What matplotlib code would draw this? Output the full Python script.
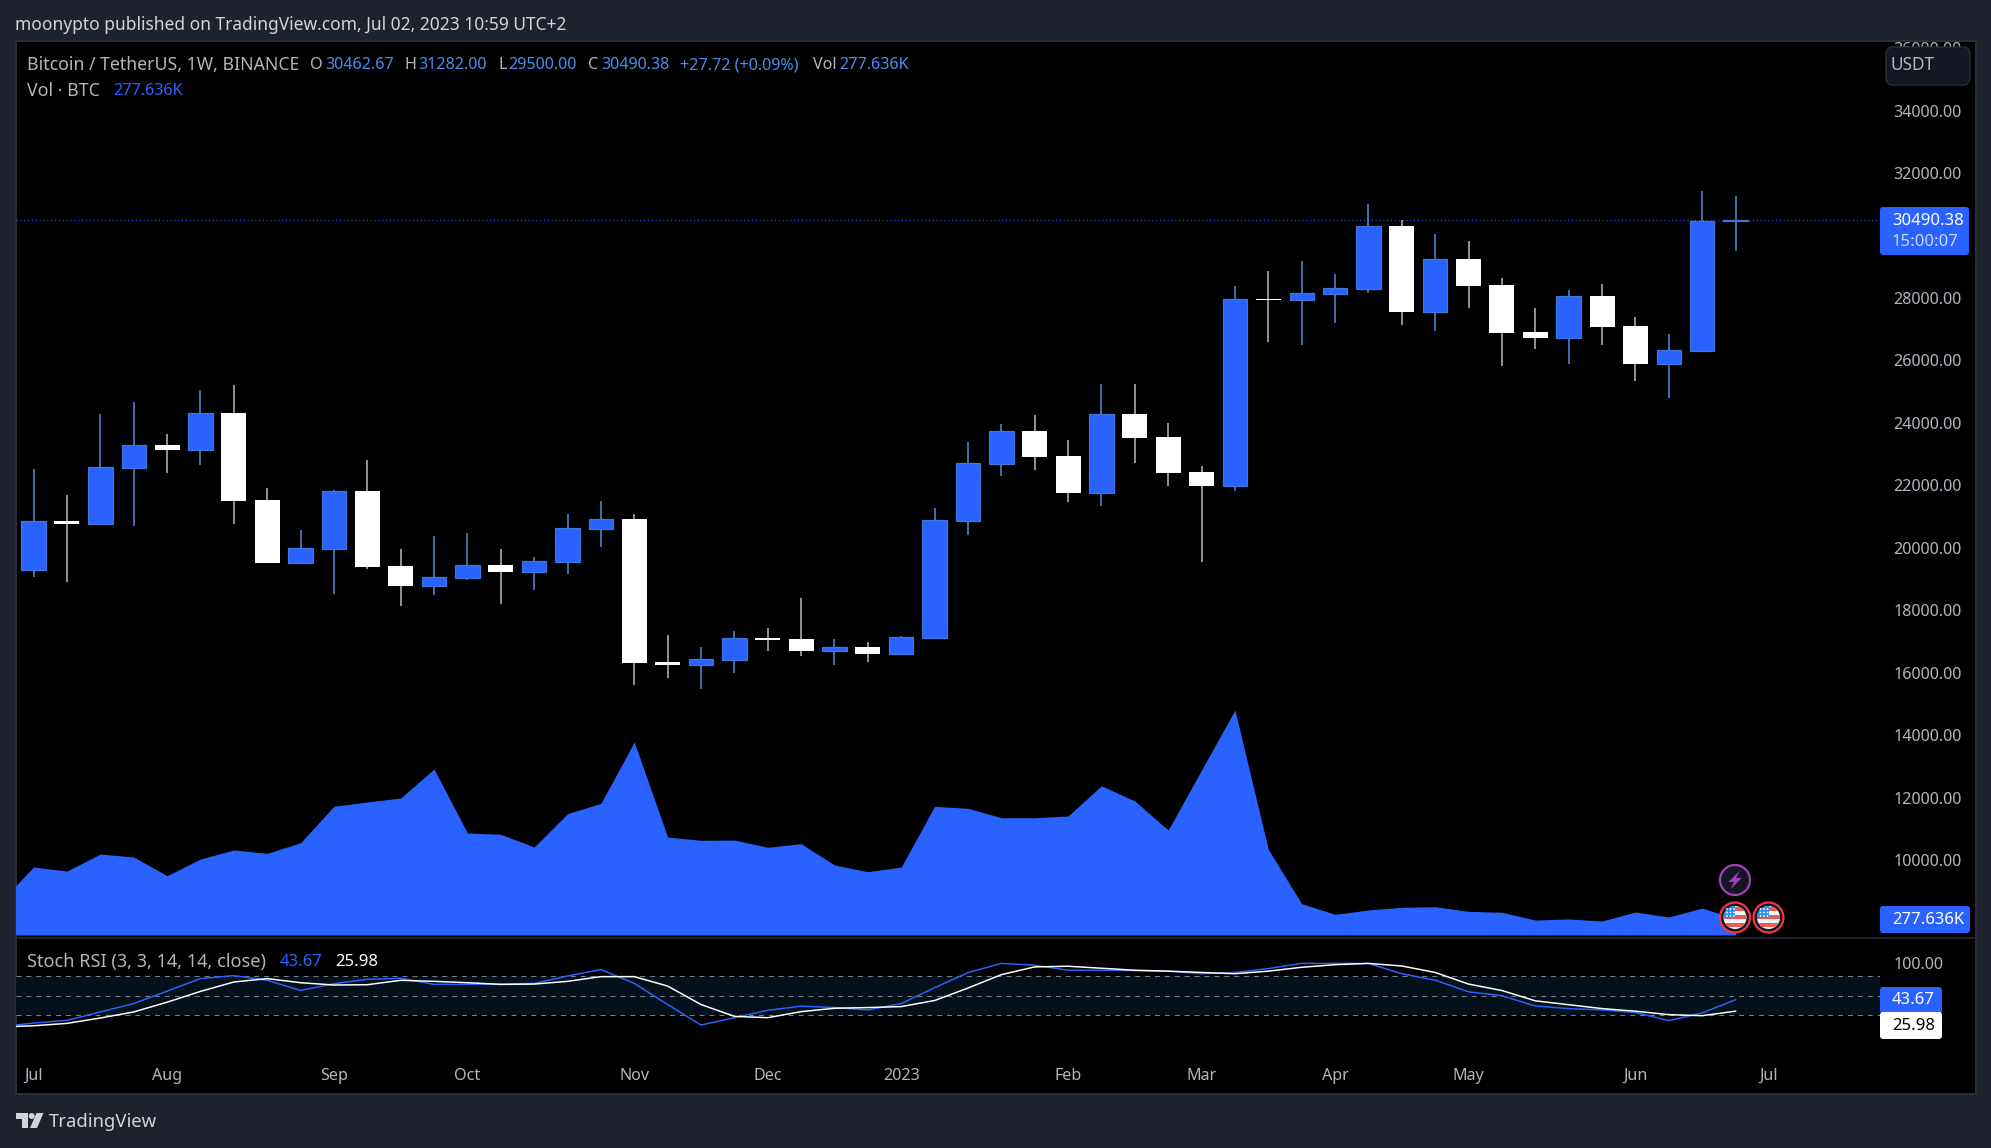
import matplotlib
matplotlib.use("Agg")
import matplotlib.pyplot as plt
from matplotlib.patches import Rectangle, Circle, FancyBboxPatch, Polygon
import numpy as np

plt.rcParams['font.family'] = 'Noto Sans'

# weekly candles, Jul 2022 - Jun 2023
opens = [19300, 20858, 20773, 22567, 23293, 23143, 24318, 21531, 19524, 19972, 21819, 19417, 18776,
         19043, 19449, 19235, 19556, 20613, 20922, 16342, 16256, 16416, 17110, 17078, 16694, 16822,
         16609, 17121, 20869, 22695, 23741, 22940, 21766, 24286, 23549, 22428, 21979, 27968, 27947,
         28139, 28299, 30307, 27563, 29250, 28417, 26911, 26730, 28064, 27103, 25897, 26313, 30462.67]
highs = [22524, 21691, 24286, 24670, 23645, 25054, 25215, 21915, 20570, 21851, 22812, 19961, 20378,
         20474, 19961, 19705, 21083, 21499, 21082, 17207, 16822, 17324, 17431, 18392, 17078, 16982,
         17175, 21274, 23389, 23965, 24254, 23453, 25246, 25246, 23997, 22620, 28386, 28865, 29186,
         28769, 31011, 30499, 30050, 29826, 28641, 27680, 28257, 28449, 27392, 26847, 31428, 31282]
lows = [19075, 18905, 20720, 20709, 22406, 22652, 20762, 19513, 19500, 18520, 19321, 18136, 18488,
        18968, 18200, 18648, 19161, 20025, 15605, 15829, 15477, 15989, 16694, 16534, 16246, 16342,
        16566, 17121, 20420, 22310, 22492, 21467, 21339, 22716, 21979, 19555, 21819, 26591, 26495,
        27200, 28171, 27136, 26943, 27680, 25822, 26367, 25886, 26495, 25342, 24797, 26281, 29500]
closes = [20848, 20762, 22577, 23282, 23133, 24307, 21499, 19513, 19983, 21809, 19385, 18776, 19054,
          19438, 19225, 19566, 20623, 20912, 16310, 16246, 16427, 17100, 17046, 16694, 16822, 16598,
          17132, 20879, 22705, 23730, 22908, 21755, 24275, 23517, 22396, 21979, 27958, 27947, 28150,
          28310, 30296, 27552, 29239, 28385, 26879, 26719, 28054, 27071, 25886, 26324, 30467, 30490.38]

# volume in thousands of BTC, first value is the week before the window
volume = [573, 1180, 1110, 1405, 1353, 1029, 1319, 1475, 1417, 1601, 2233, 2308, 2377, 2880, 1770,
          1747, 1527, 2105, 2285, 3349, 1700, 1643, 1648, 1522, 1584, 1215, 1098, 1180, 2233, 2198,
          2035, 2035, 2065, 2590, 2325, 1822, 2863, 3904, 1487, 543, 359, 434, 481, 491, 411, 394,
          260, 278, 243, 399, 312, 468, 277.636]

# stoch rsi, same start as volume
stoch_k = [2, 7.6, 11.8, 24.8, 37.8, 57.1, 76.4, 81.1, 73.8, 58.1, 68.6, 75.3, 76.9, 67.5, 67.5, 68,
           69, 80.5, 90.4, 69.1, 36.3, 4.5, 15.9, 27.4, 33.7, 31.6, 27.9, 37.8, 62.3, 85.7, 100, 97.2,
           89.4, 89.4, 88.9, 88, 84, 86, 92, 100, 100, 100, 84, 74, 56, 50, 34, 30, 28, 24, 11.3, 23.3, 43.67]
stoch_d = [1.4, 3.4, 7.1, 15.4, 24.8, 39.9, 56.6, 71.2, 76.4, 70.1, 66.5, 67, 73.8, 72.2, 70.1, 67.5,
           68, 72.2, 79.5, 79.5, 64.9, 36.3, 18, 15.9, 25.3, 30.5, 31.6, 33.1, 42.5, 61.8, 82.6, 94.6,
           95.6, 92.5, 89.4, 88, 86, 84, 88, 94, 98, 100, 96, 86, 68, 58, 42, 36, 30, 26, 20.6, 19, 25.98]

# 30000 sits behind the last price tag in the original, so it is left out
price_ticks = [10000, 12000, 14000, 16000, 18000, 20000, 22000, 24000, 26000, 28000, 32000, 34000, 36000]
stoch_levels = [80, 50, 20]
time_tick_idx = [0, 4, 9, 13, 18, 22, 26, 31, 35, 39, 43, 48, 52]
time_tick_labels = ['Jul', 'Aug', 'Sep', 'Oct', 'Nov', 'Dec', '2023', 'Feb', 'Mar', 'Apr', 'May', 'Jun', 'Jul']
last_close = 30490.38

BG = '#1e222d'
BORDER = '#2a2e39'
BLUE = '#2962ff'
BLUE_EDGE = '#3f78dc'
BLUE_WICK = '#4f86d8'
GREY_WICK = '#b0b0b0'
TEXT = '#b2b5be'
VALUE = '#4a8cf0'

W, H = 1991, 1148
PX = 0.72  # one pixel in points


def px_axes(left, top, right, bottom):
    return [left / W, 1 - bottom / H, (right - left) / W, (bottom - top) / H]


fig = plt.figure(figsize=(W / 100, H / 100), dpi=100, facecolor=BG)

# black pane behind everything
back = fig.add_axes([0, 0, 1, 1], zorder=-1)
back.set_xlim(0, W)
back.set_ylim(H, 0)
back.axis('off')
back.add_patch(Rectangle((15.5, 40.5), 1960, 1053, facecolor='black', edgecolor=BORDER, lw=2 * PX))

xs = np.arange(len(opens))
xs_ind = np.arange(-1, len(opens))
xlim = (-0.527, 55.33)

# price pane
ax = fig.add_axes(px_axes(16, 41, 1880, 937), facecolor='none')
ax.set_xlim(*xlim)
ax.set_ylim(7533, 36232)
opens_a, closes_a = np.array(opens), np.array(closes)
up = closes_a > opens_a
wick_colors = [BLUE_WICK if u else GREY_WICK for u in up]
ax.vlines(xs, lows, highs, colors=wick_colors, lw=1.6 * PX, zorder=2)
ax.bar(xs[up], (closes_a - opens_a)[up], bottom=opens_a[up], width=0.73, color=BLUE,
       edgecolor=BLUE_EDGE, linewidth=1.2 * PX, zorder=3)
ax.bar(xs[~up], (opens_a - closes_a)[~up], bottom=closes_a[~up], width=0.75, color='white',
       edgecolor='white', linewidth=0, zorder=3)
ax.axhline(last_close, color=BLUE, lw=1.1 * PX, linestyle=(0, (1, 2.5)), zorder=1)
ax.tick_params(axis='x', length=0, labelbottom=False)
for s in ax.spines.values():
    s.set_visible(False)

# volume on its own scale, same pane
ax_vol = ax.twinx()
ax_vol.set_ylim(-2 * 17.35, 894 * 17.35)
ax_vol.fill_between(xs_ind, 0, volume, color=BLUE, linewidth=0)
ax_vol.axis('off')

# twinx resets the tick side, so set price ticks after it
ax.yaxis.tick_right()
ax.set_yticks(price_ticks)
ax.set_yticklabels([f'{p:.2f}' for p in price_ticks])
ax.tick_params(axis='y', length=0, pad=9.4, labelsize=11.6, labelcolor=TEXT)

# stoch rsi pane
ax_st = fig.add_axes(px_axes(16, 939, 1880, 1055), facecolor='none')
ax_st.set_xlim(*xlim)
ax_st.set_ylim(-41.9, 137.8)
ax_st.axhspan(stoch_levels[2], stoch_levels[0], color='#04101a', lw=0, zorder=0)
for lev in stoch_levels:
    ax_st.axhline(lev, color='#787b86', lw=1.1 * PX, linestyle=(0, (4.5, 4.5)), zorder=1)
ax_st.plot(xs_ind, stoch_k, color=BLUE, lw=1.5 * PX, zorder=2)
ax_st.plot(xs_ind, stoch_d, color='white', lw=1.5 * PX, zorder=3)
ax_st.yaxis.tick_right()
ax_st.set_yticks([100])
ax_st.set_yticklabels(['100.00'])
ax_st.tick_params(axis='y', length=0, pad=9.4, labelsize=11.6, labelcolor=TEXT)
ax_st.set_xticks(time_tick_idx)
ax_st.set_xticklabels(time_tick_labels)
ax_st.tick_params(axis='x', length=0, pad=9, labelsize=11.6, labelcolor=TEXT)
ax_st.get_xticklabels()[6].set_fontweight('bold')
for s in ax_st.spines.values():
    s.set_visible(False)

# overlay in pixel coordinates for the labels, badges and header
ov = fig.add_axes([0, 0, 1, 1], zorder=5, facecolor='none')
ov.set_xlim(0, W)
ov.set_ylim(H, 0)
ov.axis('off')


def label(x, y, s, color=TEXT, size=11.6, **kw):
    ov.text(x, y, s, color=color, fontsize=size, va='center', ha='left', **kw)


def rbox(x0, y0, x1, y1, fc, ec='none', r=3):
    ov.add_patch(FancyBboxPatch((x0 + r, y0 + r), x1 - x0 - 2 * r, y1 - y0 - 2 * r,
                                boxstyle=f'round,pad={r},rounding_size={r}', fc=fc, ec=ec, lw=1.4 * PX))


ov.plot([16, 1975], [937.5, 937.5], color=BORDER, lw=1.5 * PX)

label(15, 24.5, 'moonypto published on TradingView.com, Jul 02, 2023 10:59 UTC+2', color='#d1d4dc', size=12.5)

# legend row
legend_row = [(27, 'Bitcoin / TetherUS, 1W, BINANCE', TEXT, 12.7), (310, 'O', TEXT, 11.6), (325, '30462.67', VALUE, 11.6),
              (405, 'H', TEXT, 11.6), (418, '31282.00', VALUE, 11.6), (499, 'L', TEXT, 11.6), (508, '29500.00', VALUE, 11.6),
              (588, 'C', TEXT, 11.6), (601, '30490.38', VALUE, 11.6), (680, '+27.72 (+0.09%)', VALUE, 11.6),
              (813, 'Vol', TEXT, 11.6), (839, '277.636K', VALUE, 11.6)]
for x, s, c, sz in legend_row:
    label(x, 65, s, color=c, size=sz)
label(27, 91, 'Vol · BTC', size=12.8)
label(113, 91, '277.636K', color=BLUE)
label(27, 962, 'Stoch RSI (3, 3, 14, 14, close)', size=13)
label(280, 962, '43.67', color=BLUE, size=12)
label(335, 962, '25.98', color='white', size=12)

# USDT button
rbox(1886, 47, 1970, 85, '#131722', BORDER, r=7)
label(1891, 65, 'USDT', size=12.4)

# last price and volume tags
rbox(1880, 207, 1969, 255, BLUE)
label(1892, 221, '30490.38', color='white', size=12)
label(1892, 242, '15:00:07', color='#cbd8ff', size=12)
rbox(1880, 906, 1970, 933, BLUE)
label(1892, 919.5, '277.636K', color='white', size=12)
rbox(1880, 987, 1942, 1014, BLUE)
label(1892, 1000.5, '43.67', color='white', size=12)
rbox(1880, 1012, 1942, 1039, 'white')
label(1892, 1025.5, '25.98', color='black', size=12)


def flag_badge(cx, cy):
    ov.add_patch(Circle((cx, cy), 15, fc='#131722', ec='#f23645', lw=2.2 * PX, zorder=6))
    clip = Circle((cx, cy), 11.5, transform=ov.transData)
    r = Rectangle((cx - 12, cy - 12), 24, 24, fc='#f7f8fa', lw=0, zorder=7)
    ov.add_patch(r)
    r.set_clip_path(clip)
    for sy in [-12, -4, 4]:
        st = Rectangle((cx - 12, cy + sy + 1), 24, 4, fc='#f0575a', lw=0, zorder=7)
        ov.add_patch(st)
        st.set_clip_path(clip)
    canton = Rectangle((cx - 12, cy - 12), 12, 12, fc='#2f8ae8', lw=0, zorder=8)
    ov.add_patch(canton)
    canton.set_clip_path(clip)
    for dx in (-8, -4.5, -1):
        for dy in (-8.5, -5, -1.5):
            ov.add_patch(Circle((cx + dx, cy + dy), 0.9, fc='white', lw=0, zorder=9))


flag_badge(1735, 917.5)
flag_badge(1768.5, 917.5)

# lightning badge
ov.add_patch(Circle((1735, 880), 15, fc='#131722', ec='#a53fbd', lw=2.2 * PX, zorder=6))
ov.add_patch(Polygon([(1740, 870.5), (1728.5, 882), (1734, 882), (1730.5, 889.5), (1741.5, 878), (1736, 878)],
                     closed=True, fc='#a53fbd', lw=0, zorder=7))

# footer logo
ov.add_patch(Polygon([(15.6, 1113), (27.6, 1113), (27.6, 1128), (21.5, 1128), (21.5, 1119), (15.6, 1119)],
                     closed=True, fc='#d1d4dc', lw=0))
ov.add_patch(Circle((31.7, 1116), 3, fc='#d1d4dc', lw=0))
ov.add_patch(Polygon([(36.5, 1113), (43.5, 1113), (37, 1128), (30, 1128)], closed=True, fc='#d1d4dc', lw=0))
label(49, 1122, 'TradingView', color='#d1d4dc', size=13.3)

fig.savefig('out.png', dpi=100, facecolor=BG)
